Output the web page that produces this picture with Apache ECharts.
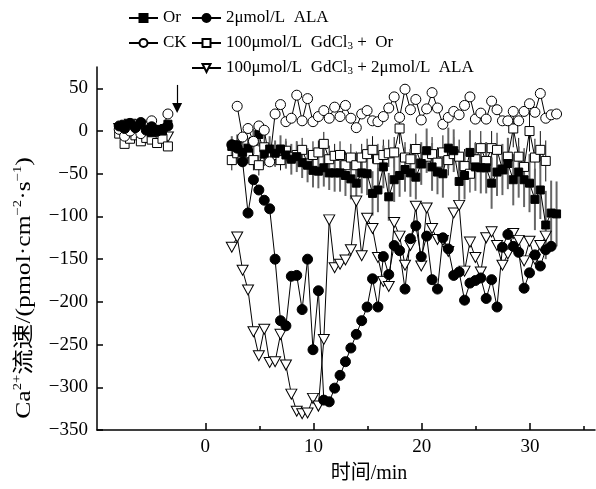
<!DOCTYPE html>
<html>
<head>
<meta charset="utf-8">
<script src="https://cdn.jsdelivr.net/npm/echarts@6/dist/echarts.min.js"></script>
<style>html,body{margin:0;padding:0;background:#fff;}#c{width:596px;height:489px;}</style>
</head>
<body>
<div id="c"></div>
<script>
// ---- data (minutes, pmol·cm^-2·s^-1) ----
const T_PRE = [-7.95, -7.45, -6.95, -6.45, -5.95, -5.45, -4.95, -4.45, -3.95, -3.45];
const T = [2.45, 2.95, 3.45, 3.95, 4.45, 4.95, 5.45, 5.95, 6.45, 6.95, 7.45, 7.95, 8.45, 8.95, 9.45, 9.95,
  10.45, 10.95, 11.45, 11.95, 12.45, 12.95, 13.45, 13.95, 14.45, 14.95, 15.45, 15.95, 16.45, 16.95, 17.45, 17.95,
  18.45, 18.95, 19.45, 19.95, 20.45, 20.95, 21.45, 21.95, 22.45, 22.95, 23.45, 23.95, 24.45, 24.95, 25.45, 25.95,
  26.45, 26.95, 27.45, 27.95, 28.45, 28.95, 29.45, 29.95, 30.45, 30.95, 31.45, 31.95, 32.45];

const OR_PRE = [4, 8, 2, 6, 9, 3, -2, 2, 0, 8];
const OR = [-18, -16, -25, -20, -12, -4, -27, -21, -26, -21, -28, -33, -30, -37, -40, -46,
  -47, -43, -49, -49, -49, -52, -56, -61, -49, -50, -73, -69, -42, -77, -57, -52,
  -45, -49, -54, -38, -23, -42, -48, -50, -20, -23, -59, -52, -25, -42, -43, -43,
  -61, -48, -45, -38, -57, -48, -57, -61, -80, -69, -110, -96, -97];
const OR_ERR = [12, 12, 14, 12, 15, 14, 14, 15, 15, 16, 16, 18, 18, 18, 20, 20,
  20, 22, 20, 22, 22, 24, 24, 25, 24, 25, 26, 26, 25, 28, 26, 25,
  26, 28, 26, 25, 26, 28, 26, 28, 24, 25, 28, 28, 26, 28, 30, 30,
  30, 28, 30, 30, 30, 30, 32, 34, 36, 34, 40, 38, 38];

const CK_PRE = [2, -6, 0, 4, -3, 5, 12, 0, 2, 20];
const CK = [null, 29, -7, 3, -12, 6, 1, -36, 20, 31, 11, 15, 42, 12, 38, 11,
  17, 24, 15, 28, 17, 30, 15, 4, 20, 24, 12, 11, 17, 27, 40, 16,
  49, 25, 37, 13, 26, 45, 27, 8, 16, 23, 19, 30, 40, 14, 21, 14,
  35, 25, 12, 12, 23, 12, 23, 32, 22, 44, 15, 19, 20];

const ALA_PRE = [6, 3, 9, 4, 10, 1, 5, 0, 2, 6];
const ALA = [-16, -20, -36, -96, -57, -69, -81, -91, -150, -222, -228, -170, -169, -209, -150, -256,
  -187, -315, -317, -301, -286, -270, -254, -238, -222, -206, -173, -206, -147, -168, -134, -140,
  -185, -126, -111, -147, -123, -174, -185, -125, -138, -169, -165, -198, -178, -175, -172, -196,
  -174, -206, -136, -121, -135, -142, -184, -166, -145, -158, -139, -135, null];

const GDOR_PRE = [-3, -15, -9, -5, -12, -8, -10, -14, -9, -18];
const GDOR = [-34, -26, -30, -26, -34, -40, -19, -29, -28, -34, -23, -30, -28, -22, -38, -28,
  -25, -15, -33, -29, -28, -40, -31, -40, -31, -27, -22, -33, -28, -26, -25, 3,
  -31, -33, -21, -38, -30, -27, -37, -25, -34, -27, -30, -41, -50, -33, -20, -35,
  -20, -22, -45, -30, 3, -30, -42, 0, -31, -22, -35, null, null];
const GDOR_ERR = [12, 12, 12, 12, 12, 12, 14, 12, 14, 12, 14, 14, 16, 14, 14, 16,
  14, 14, 16, 14, 16, 16, 16, 16, 16, 18, 16, 18, 18, 16, 18, 18,
  18, 18, 18, 20, 18, 20, 18, 20, 18, 20, 20, 20, 22, 20, 20, 22,
  20, 20, 22, 22, 22, 22, 22, 24, 22, 22, 24, null, null];

const GDALA_PRE = [3, -3, 8, -1, -4, 4, -7, -9, 0, -7];
const GDALA = [-136, -124, -163, -186, -235, -263, -232, -271, -270, -238, -274, -308, -328, -331, -330, -313,
  -322, -244, -104, -160, -156, -151, -139, -82, -146, -102, -114, -148, -176, -182, -107, -123,
  -157, -134, -88, -158, -90, -114, -127, -128, -141, -96, -87, -164, -130, -148, -165, -125,
  -118, -134, -157, -144, -120, -128, -152, -129, -150, -134, -123, null, null];

const ARROW = { t: -2.6, from: 54, to: 27 };
const X_MAJOR = [0, 10, 20, 30];
const X_MINOR = [5, 15, 25, 35];
const Y_TICKS = [-350, -300, -250, -200, -150, -100, -50, 0, 50];

const NAMES = { or: 'Or', ck: 'CK', ala: 'ALA', gdor: 'GdOr', gdala: 'GdALA' };
const LEGEND_TEXT = {
  Or: 'Or',
  CK: 'CK',
  ALA: '2μmol/L  ALA',
  GdOr: '{a|100μmol/L  GdCl}{b|3}{a| +  Or}',
  GdALA: '{a|100μmol/L  GdCl}{b|3}{a| + 2μmol/L  ALA}'
};

// ---- build ----
const FONT = "'Liberation Serif', 'Noto Sans CJK SC', serif";
function seg(pre, post) {
  const d = T_PRE.map((t, i) => [t, pre[i]]);
  d.push([-1, '-']);
  T.forEach((t, i) => d.push([t, post[i] == null ? '-' : post[i]]));
  return d;
}
function lineSeries(name, pre, post, symbol, size, fill, extra) {
  return Object.assign({
    type: 'line', name: name, data: seg(pre, post),
    symbol: symbol, symbolSize: size, showAllSymbol: true,
    lineStyle: { color: '#000', width: 1 },
    itemStyle: { color: fill, borderColor: '#000', borderWidth: 1 },
    emphasis: { disabled: true }, animation: false, connectNulls: false
  }, extra || {});
}
function errSeries(post, err, color, width) {
  const data = [];
  T.forEach((t, i) => { if (post[i] != null && err[i] != null) data.push([t, post[i] - err[i], post[i] + err[i]]); });
  return {
    type: 'custom', data: data, silent: true, animation: false,
    encode: { x: 0, y: [1, 2] },
    renderItem: function (params, api) {
      const p1 = api.coord([api.value(0), api.value(1)]);
      const p2 = api.coord([api.value(0), api.value(2)]);
      return { type: 'line', shape: { x1: p1[0], y1: p1[1], x2: p2[0], y2: p2[1] },
        style: { stroke: color, lineWidth: width } };
    }
  };
}
const legendCommon = {
  orient: 'vertical', itemWidth: 29, itemHeight: 10, itemGap: 7, selectedMode: false,
  textStyle: { fontFamily: FONT, fontSize: 17, color: '#000', lineHeight: 18,
    rich: { a: { fontFamily: FONT, fontSize: 17, color: '#000' },
            b: { fontFamily: FONT, fontSize: 11, color: '#000', verticalAlign: 'bottom', padding: [6, 0, 0, 0] } } },
  formatter: n => LEGEND_TEXT[n]
};

const chart = echarts.init(document.getElementById('c'), null, { renderer: 'canvas' });
const option = {
  backgroundColor: '#fff',
  animation: false,
  grid: { left: 97, right: 1, top: 67, bottom: 52, containLabel: false },
  legend: [
    Object.assign({}, legendCommon, { data: [NAMES.or, NAMES.ck], left: 123, top: 4 }),
    Object.assign({}, legendCommon, { data: [NAMES.ala, NAMES.gdor, NAMES.gdala], left: 186, top: 4 })
  ],
  xAxis: [
    {
      type: 'value', min: -10, max: 36, interval: 10,
      axisLine: { onZero: false, lineStyle: { color: '#000', width: 1.5 } },
      axisTick: { inside: true, length: 7, lineStyle: { color: '#000', width: 1.5 }, customValues: X_MAJOR },
      axisLabel: { customValues: X_MAJOR, fontFamily: FONT, fontSize: 19, color: '#000', margin: 8 },
      splitLine: { show: false },
      name: '时间/min', nameLocation: 'middle', nameGap: 34,
      nameTextStyle: { fontFamily: FONT, fontSize: 20, color: '#000', padding: [0, 0, 0, 46] }
    },
    {
      type: 'value', min: -10, max: 36, interval: 5, position: 'bottom',
      axisLine: { show: false, onZero: false },
      axisTick: { inside: true, length: 4, lineStyle: { color: '#000', width: 1.5 }, customValues: X_MINOR },
      axisLabel: { show: false }, splitLine: { show: false }
    }
  ],
  yAxis: {
    type: 'value', min: -350, max: 75, interval: 50,
    axisLine: { show: true, onZero: false, lineStyle: { color: '#000', width: 1.5 } },
    axisTick: { show: true, inside: true, length: 6, lineStyle: { color: '#000', width: 1.5 }, customValues: Y_TICKS },
    axisLabel: { customValues: Y_TICKS, fontFamily: FONT, fontSize: 19, color: '#000', margin: 9,
      formatter: v => (v < 0 ? '\u2212' + Math.abs(v) : String(v)) },
    splitLine: { show: false }
  },
  graphic: [{
    type: 'text', x: 24, y: 288, rotation: Math.PI / 2, scaleX: 1.22,
    style: {
      text: '{n|Ca}{s|2+}{n|流速/(pmol·cm}{s|\u22122}{n|·s}{s|\u22121}{n|)}',
      align: 'center', verticalAlign: 'middle',
      rich: {
        n: { fontFamily: FONT, fontSize: 21, color: '#000', lineHeight: 24 },
        s: { fontFamily: FONT, fontSize: 12, color: '#000', verticalAlign: 'top', lineHeight: 24, padding: [0, 0, 10, 0] }
      }
    }
  }],
  series: [
    lineSeries(NAMES.gdala, GDALA_PRE, GDALA, 'path://M0,0L12,0L6,10Z', [11, 10], '#fff'),
    errSeries(GDOR, GDOR_ERR, '#111', 1),
    lineSeries(NAMES.gdor, GDOR_PRE, GDOR, 'rect', 9, '#fff'),
    errSeries(OR, OR_ERR, '#666', 2),
    lineSeries(NAMES.or, OR_PRE, OR, 'rect', 8, '#000'),
    lineSeries(NAMES.ck, CK_PRE, CK, 'circle', 10, '#fff'),
    lineSeries(NAMES.ala, ALA_PRE, ALA, 'circle', 10, '#000', {
      markLine: {
        silent: true, animation: false, symbol: ['none', 'triangle'], symbolSize: 10,
        label: { show: false },
        lineStyle: { color: '#000', width: 1.2, type: 'solid' },
        data: [[{ coord: [ARROW.t, ARROW.from] }, { coord: [ARROW.t, ARROW.to], symbolRotate: 180 }]]
      }
    })
  ]
};
chart.setOption(option);
</script>
</body>
</html>
